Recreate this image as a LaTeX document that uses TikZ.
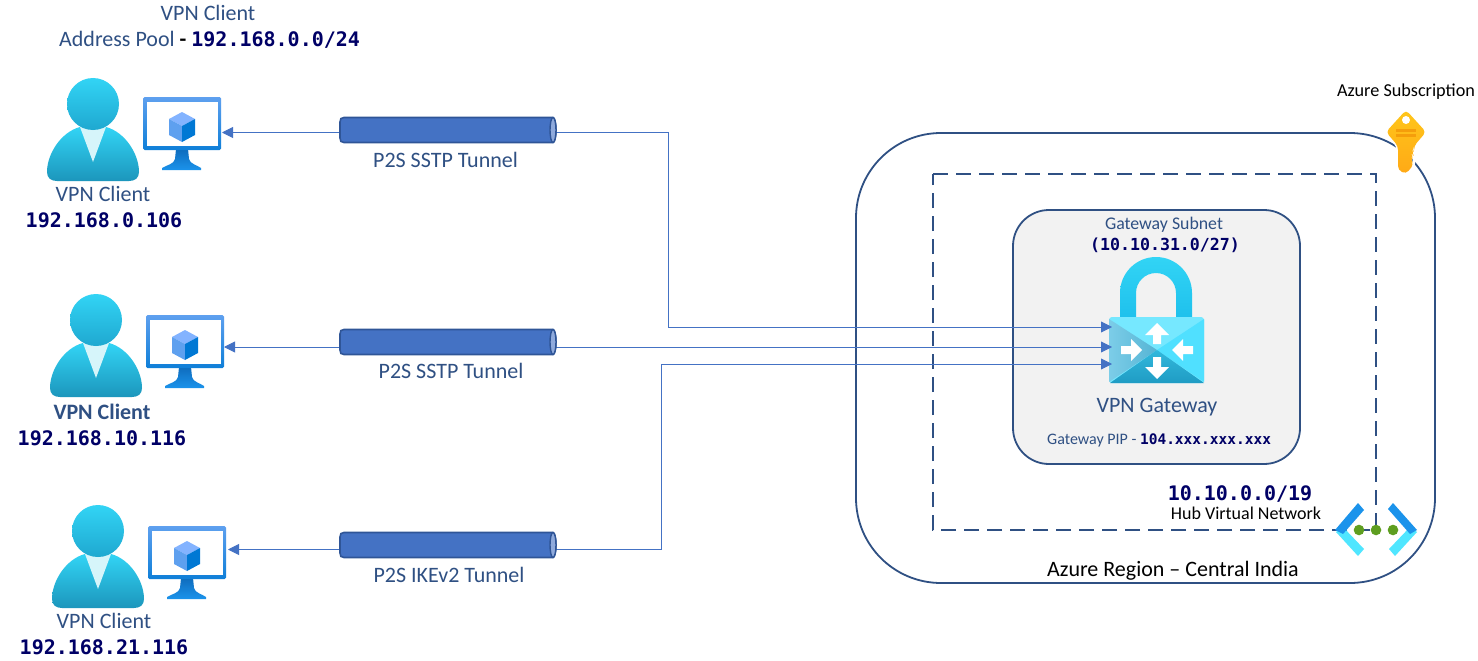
\documentclass[tikz,border=0pt]{standalone}
\usepackage{fontspec}
\setmainfont{Carlito}
\newfontfamily\ipfont{DejaVu Sans Mono}[Scale=1]
\usetikzlibrary{arrows.meta}
\definecolor{txtblue}{HTML}{2F5083}
\definecolor{ipblue}{HTML}{000066}
\definecolor{border}{HTML}{2F5083}
\definecolor{linkblue}{HTML}{4472C4}
\definecolor{tunnelfill}{HTML}{4472C4}
\definecolor{tunnelend}{HTML}{8FAADC}
\definecolor{tunnelline}{HTML}{2F5597}
\definecolor{subnetfill}{HTML}{F2F2F2}
\definecolor{azA}{HTML}{32D4F5}
\definecolor{azB}{HTML}{1C96BC}
\definecolor{azC}{HTML}{1FA8D0}
\definecolor{azD}{HTML}{1EC0EC}
\definecolor{collar}{HTML}{D6F5FA}
\definecolor{monA}{HTML}{0F6CBD}
\definecolor{monB}{HTML}{1B93EB}
\definecolor{monC}{HTML}{5EA0EF}
\definecolor{monD}{HTML}{0F7FD8}
\definecolor{cubeT}{HTML}{83B3FF}
\definecolor{cubeR}{HTML}{0078D4}
\definecolor{lockT}{HTML}{76E8FF}
\definecolor{lockR}{HTML}{50E0FF}
\definecolor{lockLa}{HTML}{7CCDE8}
\definecolor{lockLb}{HTML}{55B4D4}
\definecolor{lockBa}{HTML}{32B8DC}
\definecolor{lockBb}{HTML}{1F9CC4}
\definecolor{keyA}{HTML}{FFC61A}
\definecolor{keyB}{HTML}{FFA916}
\definecolor{keyC}{HTML}{F59E0B}
\definecolor{vnetL}{HTML}{50E6FF}
\definecolor{vnetG}{HTML}{5E9E20}
\newcommand{\fs}[1]{\fontsize{#1}{#1}\selectfont}
\newcommand{\ipt}[2]{{\ipfont\bfseries\fontsize{#1}{#1}\selectfont\textcolor{ipblue}{#2}}}
\tikzset{
  lbl/.style={inner sep=0pt,text=txtblue,font=\fs{22}},
  blk/.style={inner sep=0pt,text=black},
  anchorbox/.style={inner sep=0pt,minimum width=216pt,minimum height=24pt},
  link/.style={draw=linkblue,line width=0.9pt},
  linkto/.style={link,-{Triangle[length=11pt,width=11pt,fill=linkblue]}},
  personicon/.pic={
    \shade[top color=azA,bottom color=azB]
      (-13,23) .. controls (-32,28) and (-46,50) .. (-46,68)
      .. controls (-46,74) and (-42,77) .. (-36,77) -- (36,77)
      .. controls (42,77) and (46,74) .. (46,68)
      .. controls (46,50) and (32,28) .. (13,23) -- cycle;
    \fill[collar] (-13,23) -- (13,23) -- (0,58) -- cycle;
    \shade[top color=azA,bottom color=azC] (0,0) circle[radius=26];
  },
  monitoricon/.pic={
    \shade[top color=monA,bottom color=monB]
      (33,52) -- (45,52) -- (46,62) .. controls (47,67) and (54,68) .. (58,71) -- (58,73) -- (19,73) -- (19,71)
      .. controls (24,68) and (31,67) .. (32,62) -- cycle;
    \shade[top color=monC,bottom color=monD,rounded corners=1.5pt] (0,0) rectangle (78,53);
    \fill[white] (4,5) rectangle (75,49);
    \fill[cubeT] (39,15) -- (52,22) -- (39,29) -- (26,22) -- cycle;
    \fill[monC] (26,22) -- (39,29) -- (39,45) -- (26,38) -- cycle;
    \fill[cubeR] (52,22) -- (39,29) -- (39,45) -- (52,38) -- cycle;
  },
  tunnelicon/.pic={
    \draw[tunnelline,fill=tunnelfill,line width=1.6pt]
      (-104,-12.5) -- (105,-12.5) arc[start angle=-90,end angle=90,x radius=3,y radius=12.5]
      -- (-104,12.5) .. controls (-107,12.5) and (-108,11) .. (-108,8) -- (-108,-8)
      .. controls (-108,-11) and (-107,-12.5) .. (-104,-12.5) -- cycle;
    \draw[tunnelline,fill=tunnelend,line width=1.4pt] (105,0) ellipse[x radius=3,y radius=12.5];
  }
}
\begin{document}
\begin{tikzpicture}[x=1pt,y=-1pt]
\useasboundingbox (0,0) rectangle (1478,661);
\fill[white] (0,0) rectangle (1478,661);
% containers
\draw[border,line width=1.8pt,rounded corners=85pt] (856,133) rectangle (1435,583);
\draw[border,line width=1.8pt,dash pattern=on 15pt off 8pt] (933,174) -- (1376,174) -- (1376,530) -- (933,530) -- cycle;
\draw[border,fill=subnetfill,line width=1.8pt,rounded corners=36pt] (1013,210) rectangle (1300,464);
% icons left
\pic at (93,104) {personicon};
\pic at (143,97) {monitoricon};
\pic at (96,320) {personicon};
\pic at (146,315) {monitoricon};
\pic at (98,531) {personicon};
\pic at (148,526) {monitoricon};
% named end points
\node[anchorbox] (t1) at (448,132.5) {};
\node[anchorbox] (t2) at (448,347) {};
\node[anchorbox] (t3) at (448,549.5) {};
\coordinate (c1) at (222,132.5);
\coordinate (c2) at (224,347);
\coordinate (c3) at (228,549.5);
\coordinate (g1) at (1112,327);
\coordinate (g2) at (1112,347);
\coordinate (g3) at (1112,364);
\coordinate (b1) at (668,132.5);
\coordinate (b1b) at (668,327);
\coordinate (b3) at (661,549.5);
\coordinate (b3b) at (661,364);
% lock icon
\shade[top color=azA,bottom color=azD]
  (1120,320) -- (1120,293) arc[start angle=180,end angle=360,radius=36] -- (1192,320) -- (1176,320) -- (1176,293)
  arc[start angle=360,end angle=180,radius=20] -- (1136,320) -- cycle;
\fill[lockT,rounded corners=3pt] (1109,317) rectangle (1204,383);
\fill[lockR] (1204,319) -- (1157,350) -- (1204,382) -- cycle;
\shade[left color=lockLa,right color=lockLb] (1109,319) -- (1157,350) -- (1109,382) -- cycle;
\shade[top color=lockBa,bottom color=lockBb] (1110,383) -- (1157,350) -- (1204,383) -- cycle;
\fill[white] (1157,323) -- (1169,335) -- (1161,335) -- (1161,344) -- (1153,344) -- (1153,335) -- (1145,335) -- cycle;
\fill[white] (1157,379) -- (1169,367) -- (1161,367) -- (1161,357) -- (1153,357) -- (1153,367) -- (1145,367) -- cycle;
\fill[white] (1142,350) -- (1131,339) -- (1131,346) -- (1121,346) -- (1121,354) -- (1131,354) -- (1131,361) -- cycle;
\fill[white] (1172,350) -- (1183,339) -- (1183,346) -- (1193,346) -- (1193,354) -- (1183,354) -- (1183,361) -- cycle;
% connectors
\draw[linkto] (t1.west) -- (c1);
\draw[linkto] (t2.west) -- (c2);
\draw[linkto] (t3.west) -- (c3);
\draw[linkto] (t1.east) -- (b1) -- (b1b) -- (g1);
\draw[linkto] (t2.east) -- (g2);
\draw[linkto] (t3.east) -- (b3) -- (b3b) -- (g3);
% tunnels on top of their connector ends
\pic at (448,130) {tunnelicon};
\pic at (448,342) {tunnelicon};
\pic at (448,545) {tunnelicon};
% key icon
\draw[white,line width=3pt,rounded corners=4pt]
  (1406,110) -- (1426,132) -- (1414,146) -- (1414,165) -- (1406,174) -- (1398,170) -- (1398,146) -- (1386,132) -- cycle;
\shade[top color=keyA,bottom color=keyB,rounded corners=4pt]
  (1406,110) -- (1426,132) -- (1414,146) -- (1414,150) -- (1411,153) -- (1414,156) -- (1410,160) -- (1414,164) -- (1406,174) -- (1398,170) -- (1398,146) -- (1386,132) -- cycle;
\fill[white] (1406,120) circle[radius=4];
\fill[keyC] (1396,129) rectangle (1416,132);
\fill[keyC] (1396,134) rectangle (1416,137);
% VNet icon
\fill[vnetL] (1343,527) -- (1364,549) -- (1358,556) -- (1336,532) -- cycle;
\fill[monB] (1335,530) -- (1358,503) -- (1364,510) -- (1343,534) -- cycle;
\fill[vnetL] (1410,527) -- (1389,549) -- (1395,556) -- (1417,532) -- cycle;
\fill[monB] (1417,530) -- (1393,503) -- (1388,509) -- (1410,534) -- cycle;
\fill[vnetG] (1359,530) circle[radius=5.3];
\fill[vnetG] (1376,530) circle[radius=5.3];
\fill[vnetG] (1393,530) circle[radius=5.3];
% texts
\node[lbl] (poolA) at (208,13) {VPN Client};
\node[lbl,anchor=west] (poolB) at (59,40) {Address Pool \textbf{\textcolor{black}{-}} \ipt{20}{192.168.0.0/24}};
\node[lbl] (v1) at (103,194) {VPN Client};
\node[inner sep=0pt] (i1) at (104,220) {\ipt{20}{192.168.0.106}};
\node[lbl] (v2) at (102,412) {\textbf{VPN Client}};
\node[inner sep=0pt] (i2) at (102,438) {\ipt{20}{192.168.10.116}};
\node[lbl] (v3) at (104,621) {VPN Client};
\node[inner sep=0pt] (i3) at (104,647) {\ipt{20}{192.168.21.116}};
\node[lbl] (l1) at (445.5,160) {P2S SSTP Tunnel};
\node[lbl] (l2) at (451,371) {P2S SSTP Tunnel};
\node[lbl] (l3) at (449,575) {P2S IKEv2 Tunnel};
\node[lbl,font=\fs{17.8}] (gs) at (1164,225) {Gateway Subnet};
\node[inner sep=0pt] (gi) at (1165,245) {\ipt{16.6}{(10.10.31.0/27)}};
\node[lbl,font=\fs{22}] (vg) at (1157,407) {VPN Gateway};
\node[lbl,font=\fs{16},anchor=west] (pip) at (1047,440) {Gateway PIP - \ipt{14.5}{104.xxx.xxx.xxx}};
\node[blk,font=\fs{18.2}] (as) at (1406,92) {Azure Subscription};
\node[inner sep=0pt] (hn) at (1240,494) {\ipt{20}{10.10.0.0/19}};
\node[blk,font=\fs{18}] (hv) at (1246,513) {Hub Virtual Network};
\node[blk,font=\fs{22}] (ar) at (1173,571) {Azure Region – Central India};
\end{tikzpicture}
\end{document}
